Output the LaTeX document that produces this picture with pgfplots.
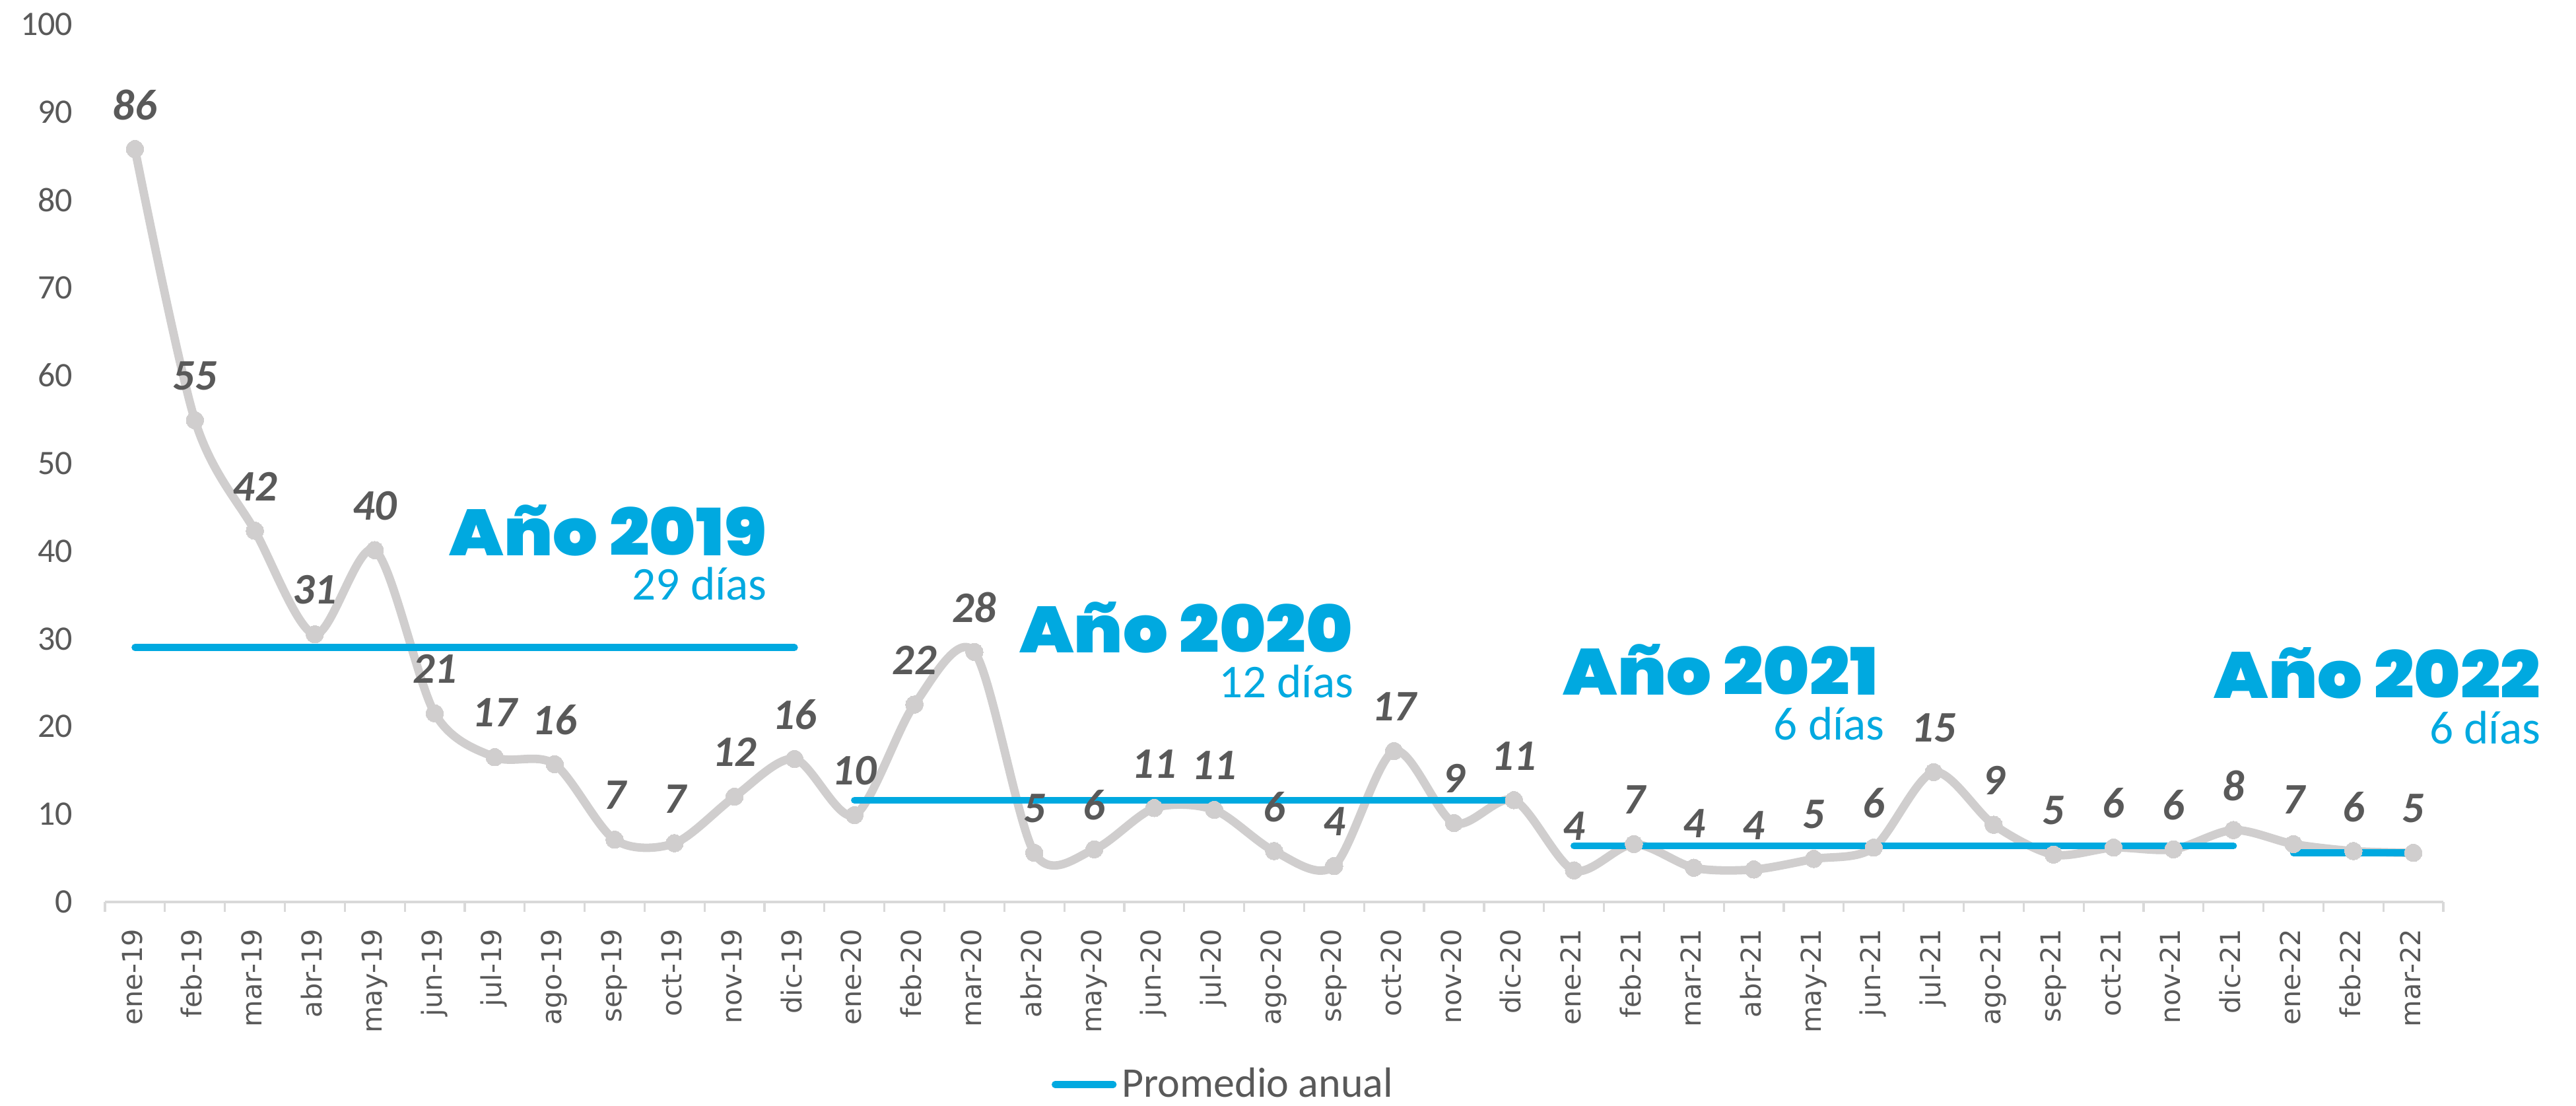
\documentclass[border=0pt]{standalone}
\usepackage{pgfplots}
\pgfplotsset{compat=1.18}
\usepackage{pgfplotstable}
\usepackage{fontspec}
\setmainfont{Carlito}
\newfontfamily\carlito{Carlito}
\newfontfamily\dejavu{DejaVu Sans}
\newfontfamily\poppinsblack{Poppins Black}[FakeStretch=1.08]
\definecolor{blueavg}{RGB}{0,169,224}
\definecolor{linegray}{RGB}{208,206,206}
\definecolor{txtgray}{RGB}{89,89,89}
\definecolor{axgray}{RGB}{217,217,217}

\pgfplotstableread{
x y lab
0 85.8 86
1 54.9 55
2 42.3 42
3 30.5 31
4 40.1 40
5 21.5 21
6 16.5 17
7 15.7 16
8 7.1 7
9 6.7 7
10 12.0 12
11 16.3 16
12 9.9 10
13 22.5 22
14 28.5 28
15 5.6 5
16 6.0 6
17 10.7 11
18 10.5 11
19 5.8 6
20 4.1 4
21 17.2 17
22 9.0 9
23 11.6 11
24 3.6 4
25 6.6 7
26 3.9 4
27 3.7 4
28 4.9 5
29 6.2 6
30 14.8 15
31 8.8 9
32 5.4 5
33 6.2 6
34 6.0 6
35 8.2 8
36 6.6 7
37 5.8 6
38 5.6 5
}\datatable

\begin{document}
\begin{tikzpicture}
\begin{axis}[
  scale only axis, width=885.5pt, height=332.25pt,
  xmin=-0.5, xmax=38.5, ymin=0, ymax=100,
  clip=false,
  axis x line*=bottom, axis y line*=left,
  axis line style={-},
  x axis line style={draw=axgray, line width=1.2pt},
  y axis line style={draw=none},
  xtick={0,...,38},
  xticklabels={ene-19,feb-19,mar-19,abr-19,may-19,jun-19,jul-19,ago-19,sep-19,oct-19,nov-19,dic-19,ene-20,feb-20,mar-20,abr-20,may-20,jun-20,jul-20,ago-20,sep-20,oct-20,nov-20,dic-20,ene-21,feb-21,mar-21,abr-21,may-21,jun-21,jul-21,ago-21,sep-21,oct-21,nov-21,dic-21,ene-22,feb-22,mar-22},
  minor xtick={-0.5,0.5,...,38.5},
  major tick length=0pt,
  minor tick length=3.75pt,
  tick align=outside,
  major x tick style={draw=none},
  minor x tick style={draw=axgray, line width=0.8pt},
  major y tick style={draw=none},
  ytick={0,10,...,100},
  /pgf/number format/assume math mode=true,
  yticklabel style={font=\carlito\fontsize{13}{13}\selectfont, text=txtgray, inner sep=0pt, xshift=-12pt},
  xticklabel style={font=\fontspec{DejaVu Sans}\fontsize{10.4}{10.4}\selectfont, text=txtgray, rotate=90, anchor=east, inner sep=0pt, xshift=-10pt, text height=0.73em, text depth=0.2em},
  legend style={at={(0.479,-0.208)}, anchor=center, draw=none, fill=none, inner sep=0pt,
    font=\carlito\fontsize{16}{16}\selectfont, text=txtgray},
  legend image code/.code={\draw[#1, line cap=round] (0pt,0pt) -- (22pt,0pt);},
]
% data line
\addplot[linegray, line width=3.2pt, smooth, mark=*, mark size=3.3pt,
  mark options={fill=linegray, draw=linegray, line width=0pt}, forget plot]
  table[x=x, y=y] {\datatable};
% averages
\addplot[blueavg, line width=2.6pt, line cap=round] coordinates {(0,29.0) (11,29.0)};
\addlegendentry{Promedio anual}
\addplot[blueavg, line width=2.6pt, line cap=round, forget plot] coordinates {(12,11.6) (23,11.6)};
\addplot[blueavg, line width=2.6pt, line cap=round, forget plot] coordinates {(24,6.4) (35,6.4)};
\addplot[blueavg, line width=2.6pt, line cap=round, forget plot] coordinates {(36,5.6) (38,5.6)};
% labels
\addplot[draw=none, mark=none, forget plot,
  nodes near coords, point meta=explicit symbolic,
  every node near coord/.append style={anchor=center, yshift=16.8pt, inner sep=0pt,
    font=\carlito\bfseries\itshape\fontsize{16.5}{16.5}\selectfont, text=txtgray}]
  table[x=x, y=y, meta=lab] {\datatable};
% annotations
\node[anchor=base east, inner sep=0pt, text=blueavg, font=\poppinsblack\fontsize{24.7}{24.7}\selectfont] at (axis cs:10.54,39.5) {Año 2019};
\node[anchor=base east, inner sep=0pt, text=blueavg, font=\carlito\fontsize{17.8}{17.8}\selectfont] at (axis cs:10.55,34.4) {29 días};
\node[anchor=base east, inner sep=0pt, text=blueavg, font=\poppinsblack\fontsize{24.7}{24.7}\selectfont] at (axis cs:20.32,28.4) {Año 2020};
\node[anchor=base east, inner sep=0pt, text=blueavg, font=\carlito\fontsize{17.8}{17.8}\selectfont] at (axis cs:20.33,23.3) {12 días};
\node[anchor=base east, inner sep=0pt, text=blueavg, font=\poppinsblack\fontsize{24.7}{24.7}\selectfont] at (axis cs:29.08,23.6) {Año 2021};
\node[anchor=base east, inner sep=0pt, text=blueavg, font=\carlito\fontsize{17.8}{17.8}\selectfont] at (axis cs:29.19,18.5) {6 días};
\node[anchor=base east, inner sep=0pt, text=blueavg, font=\poppinsblack\fontsize{24.7}{24.7}\selectfont] at (axis cs:40.13,23.2) {Año 2022};
\node[anchor=base east, inner sep=0pt, text=blueavg, font=\carlito\fontsize{17.8}{17.8}\selectfont] at (axis cs:40.13,18.0) {6 días};
\end{axis}
\pgfresetboundingbox
\path[use as bounding box] ([xshift=-39.75pt,yshift=-77pt]current axis.south west) rectangle ([xshift=50.25pt,yshift=9.25pt]current axis.north east);
\end{tikzpicture}
\end{document}
